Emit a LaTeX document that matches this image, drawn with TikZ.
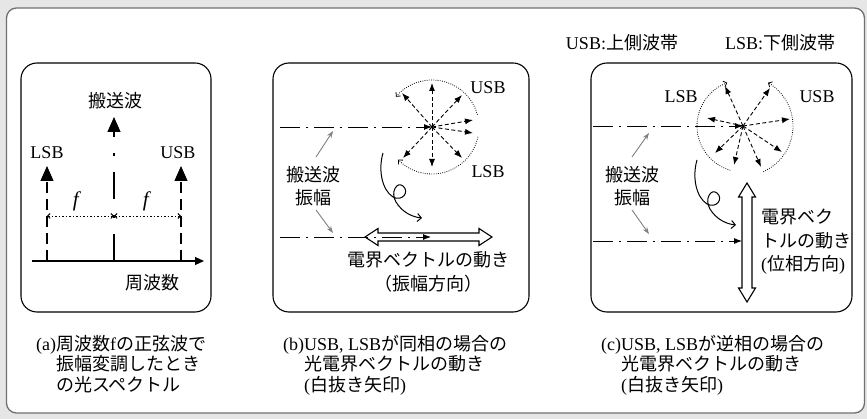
\documentclass[tikz,border=0pt]{standalone}
\usepackage{fontspec}
\setmainfont{Liberation Serif}
\newfontfamily\jp{Noto Sans CJK JP}
\usetikzlibrary{arrows.meta}
\definecolor{bggray}{HTML}{E6E6E6}
\definecolor{framegray}{HTML}{707070}
\definecolor{leadgray}{HTML}{808080}
\begin{document}
\begin{tikzpicture}[x=1pt,y=-1pt,
  txt/.style={inner sep=0pt, font=\fontsize{18}{22}\selectfont},
  captxt/.style={inner sep=0pt, anchor=north west, align=left, font=\fontsize{18}{20.5}\selectfont},
  panelbox/.style={draw, line width=1.1pt, rounded corners=16pt},
  dashdotline/.style={line width=0.9pt, dash pattern=on 20pt off 6pt on 2pt off 6pt, -{Latex[length=8pt,width=6pt]}},
  vecline/.style={line width=0.9pt, dash pattern=on 4pt off 2.5pt, -{Latex[length=8pt,width=6pt]}},
  arcdot/.style={line width=0.8pt, dash pattern=on 0.8pt off 1.4pt, -{Straight Barb[length=3pt,width=6pt]}},
  curlline/.style={line width=1pt, -{Straight Barb[length=4pt,width=8pt]}},
  leadline/.style={leadgray, line width=0.9pt, -{Stealth[length=7pt,width=5pt]}},
  hollowarrow/.style={draw, fill=white, line width=1.1pt, line join=miter},
  bigtip/.style={-{Triangle[length=15pt,width=13pt]}},
  axisline/.style={line width=1.1pt, -{Triangle[length=9pt,width=8pt]}},
  carrierline/.style={line width=1.1pt, dash pattern=on 27pt off 16pt on 3pt off 16pt, bigtip},
  sideline/.style={line width=1.1pt, dash pattern=on 11pt off 6pt, bigtip},
  fdim/.style={line width=0.9pt, dash pattern=on 1.5pt off 2pt, {Straight Barb[length=2.5pt,width=5pt]}-{Straight Barb[length=2.5pt,width=5pt]}},
]
\useasboundingbox (0,0) rectangle (867,419);
\fill[bggray] (0,0) rectangle (867,419);
\draw[framegray, line width=1.3pt, fill=white, rounded corners=10pt] (6.5,8) rectangle (864.5,413);

% legend
\node[txt] (legU) at (622,43) {USB:{\jp 上側波帯}};
\node[txt] (legL) at (780,43) {LSB:{\jp 下側波帯}};

% panels
\draw[panelbox] (21,63) rectangle (211,312);
\draw[panelbox] (273,63) rectangle (529,312);
\draw[panelbox] (591,63) rectangle (852,312);

% ---------- panel (a)
\coordinate (axL) at (32,261);
\coordinate (axR) at (204,261);
\coordinate (cbot) at (114,261);
\coordinate (ctop) at (114,117);
\coordinate (lbot) at (47,261);
\coordinate (ltop) at (47,166);
\coordinate (ubot) at (181,261);
\coordinate (utop) at (181,166);
\coordinate (fa) at (47,216);
\coordinate (fb) at (114,216);
\coordinate (fc) at (181,216);
\draw[axisline] (axL) -- (axR);
\draw[carrierline] (cbot) -- (ctop);
\draw[sideline] (lbot) -- (ltop);
\draw[sideline] (ubot) -- (utop);
\draw[fdim] (fa) -- (fb);
\draw[fdim] (fb) -- (fc);
\node[txt] (carrierA) at (115,101) {\jp 搬送波};
\node[txt] (lsbA) at (47,153) {LSB};
\node[txt] (usbA) at (178,153) {USB};
\node[txt, font=\fontsize{21}{24}\selectfont] (fL) at (77,201) {\textit{f}};
\node[txt, font=\fontsize{21}{24}\selectfont] (fR) at (147,201) {\textit{f}};
\node[txt] (freqA) at (152,283) {\jp 周波数};

% ---------- panel (b)
\coordinate (cB) at (432,127);
\coordinate (bUL) at (280,127);
\coordinate (bLL) at (280,237);
\coordinate (bLE) at (431,237);
\draw[hollowarrow] (365,237) -- (378,228.5) -- (378,233) -- (479,233) -- (479,228.5) -- (492,237)
  -- (479,245.5) -- (479,241) -- (378,241) -- (378,245.5) -- cycle;
\draw[dashdotline] (bUL) -- (cB);
\draw[dashdotline] (bLL) -- (bLE);
\foreach \dx/\dy in {0/-44, -30/-34, 30/-32, 41/-7, 41/6, 30/31, 0/40, -29/31}
  \draw[vecline] (cB) -- ++(\dx,\dy);
\draw[arcdot] ([shift={(-15:47)}]cB) arc[start angle=-15, end angle=-140, radius=47];
\draw[arcdot] ([shift={(12:47)}]cB) arc[start angle=12, end angle=136, radius=47];
\draw[curlline] (383,153) .. controls (378,170) and (382,190) .. (393,197)
  .. controls (402,202) and (410,192) .. (403,186)
  .. controls (397,181) and (390,192) .. (396,202)
  .. controls (402,212) and (412,217) .. (422,218);
\node[txt] (usbB) at (488,88) {USB};
\node[txt] (lsbB) at (488,172) {LSB};
\node[txt, align=center, font=\jp\fontsize{18}{23}\selectfont] (ampB) at (313,186.5) {搬送波\\振幅};
\coordinate (gb1s) at (316,157); \coordinate (gb1e) at (333,131);
\coordinate (gb2s) at (316,210); \coordinate (gb2e) at (333,233);
\draw[leadline] (gb1s) -- (gb1e);
\draw[leadline] (gb2s) -- (gb2e);
\node[txt, align=center, font=\jp\fontsize{18}{24}\selectfont] (moveB) at (428,272) {電界ベクトルの動き\\（振幅方向）};

% ---------- panel (c)
\coordinate (cC) at (743,126);
\coordinate (cUL) at (593,126);
\coordinate (cLL) at (593,241);
\coordinate (cLE) at (742,241);
\draw[hollowarrow] (747,183) -- (755.5,197) -- (752,197) -- (752,288) -- (755.5,288) -- (747,302)
  -- (738.5,288) -- (742,288) -- (742,197) -- (738.5,197) -- cycle;
\draw[dashdotline] (cUL) -- (cC);
\draw[dashdotline] (cLL) -- (cLE);
\foreach \dx/\dy in {-18/-40, 27/-38, -36/-8, 47/-7, -28/27, 39/26, -9/39, 18/41}
  \draw[vecline] (cC) -- ++(\dx,\dy);
\draw[arcdot] ([shift={(106:46)}]cC) arc[start angle=106, end angle=250, radius=46];
\draw[arcdot] ([shift={(66:50)}]cC) arc[start angle=66, end angle=-60, radius=50];
\begin{scope}[shift={(314,7)}]
\draw[curlline] (383,153) .. controls (378,170) and (382,190) .. (393,197)
  .. controls (402,202) and (410,192) .. (403,186)
  .. controls (397,181) and (390,192) .. (396,202)
  .. controls (402,212) and (412,217) .. (422,218);
\end{scope}
\node[txt] (lsbC) at (681,97) {LSB};
\node[txt] (usbC) at (817,97) {USB};
\node[txt, align=center, font=\jp\fontsize{18}{23}\selectfont] (ampC) at (632,186.5) {搬送波\\振幅};
\coordinate (gc1s) at (632,157); \coordinate (gc1e) at (649,133);
\coordinate (gc2s) at (632,210); \coordinate (gc2e) at (649,234);
\draw[leadline] (gc1s) -- (gc1e);
\draw[leadline] (gc2s) -- (gc2e);
\node[txt, anchor=west, align=left, font=\fontsize{18}{23.5}\selectfont] (moveC) at (761,242)
  {{\jp 電界ベク}\\{\jp トルの動き}\\({\jp 位相方向})};

% ---------- captions
\node[captxt] (capA) at (36,335) {(a){\jp 周波数}f{\jp の正弦波で}\\\phantom{(a)}{\jp 振幅変調したとき}\\\phantom{(a)}{\jp の光スペクトル}};
\node[captxt] (capB) at (283,335) {(b)USB, LSB{\jp が同相の場合の}\\\phantom{(b)}{\jp 光電界ベクトルの動き}\\\phantom{(b)}({\jp 白抜き矢印})};
\node[captxt] (capC) at (601,335) {(c)USB, LSB{\jp が逆相の場合の}\\\phantom{(c)}{\jp 光電界ベクトルの動き}\\\phantom{(c)}({\jp 白抜き矢印})};
\end{tikzpicture}
\end{document}
